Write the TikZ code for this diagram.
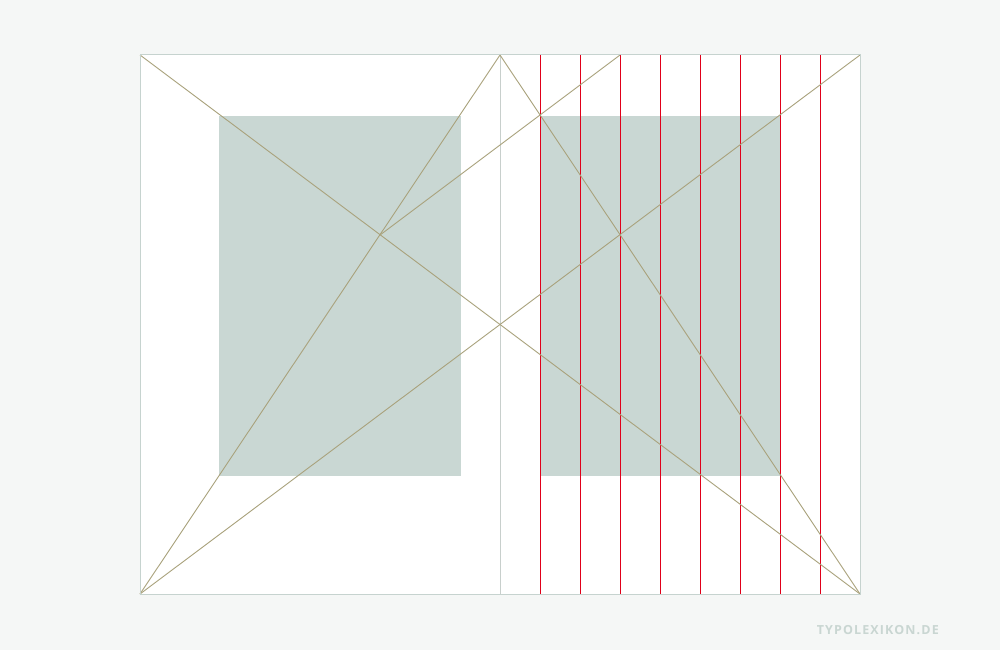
\documentclass[tikz,border=0pt]{standalone}
\usepackage{fontspec}
\newfontfamily\wmfont[LetterSpace=9]{Open Sans}
\definecolor{bg}{HTML}{F5F7F6}
\definecolor{blockc}{HTML}{C9D7D3}
\definecolor{diag}{HTML}{A9A27C}
\definecolor{frame}{HTML}{C6D3CF}
\definecolor{spinec}{HTML}{C8CFCC}
\definecolor{bred}{HTML}{E0001A}
\definecolor{wm}{HTML}{C9D6D2}
\tikzset{
  diagline/.style={draw=diag, line width=0.9pt},
  gridline/.style={draw=bred, line width=1pt},
  block/.style={fill=blockc},
}
\begin{document}
\begin{tikzpicture}[x=1pt,y=-1pt]
\fill[bg] (0,0) rectangle (1000,650);
\useasboundingbox (0,0) rectangle (1000,650);
% page
\fill[white] (140,55) rectangle (860,594);
% coordinates
\coordinate (TL) at (140,55);
\coordinate (TR) at (860,55);
\coordinate (BL) at (140,594);
\coordinate (BR) at (860,594);
\coordinate (ST) at (500,55);
\coordinate (SB) at (500,594);
\coordinate (X) at (380,235);
\coordinate (Q) at (620,55);
% text blocks
\fill[block] (219,116) rectangle (460.5,475.5);
\fill[block] (540,116) rectangle (780,475.5);
% spine
\draw[spinec, line width=1pt] (ST) -- (SB);
% grid lines
\foreach \x in {540,580,620,660,700,740,780,820} \draw[gridline] (\x,55) -- (\x,594);
% diagonals
\draw[diagline] (TL) -- (BR);
\draw[diagline] (BL) -- (TR);
\draw[diagline] (BL) -- (ST) -- (BR);
\draw[diagline] (X) -- (Q);
% frame
\draw[frame, line width=1pt] (TL) rectangle (BR);
% watermark
\node[anchor=east, text=wm, font=\wmfont\bfseries\fontsize{12.5}{14}\selectfont, inner sep=0pt] (wmk) at (939,630) {TYPOLEXIKON.DE};
\end{tikzpicture}
\end{document}
